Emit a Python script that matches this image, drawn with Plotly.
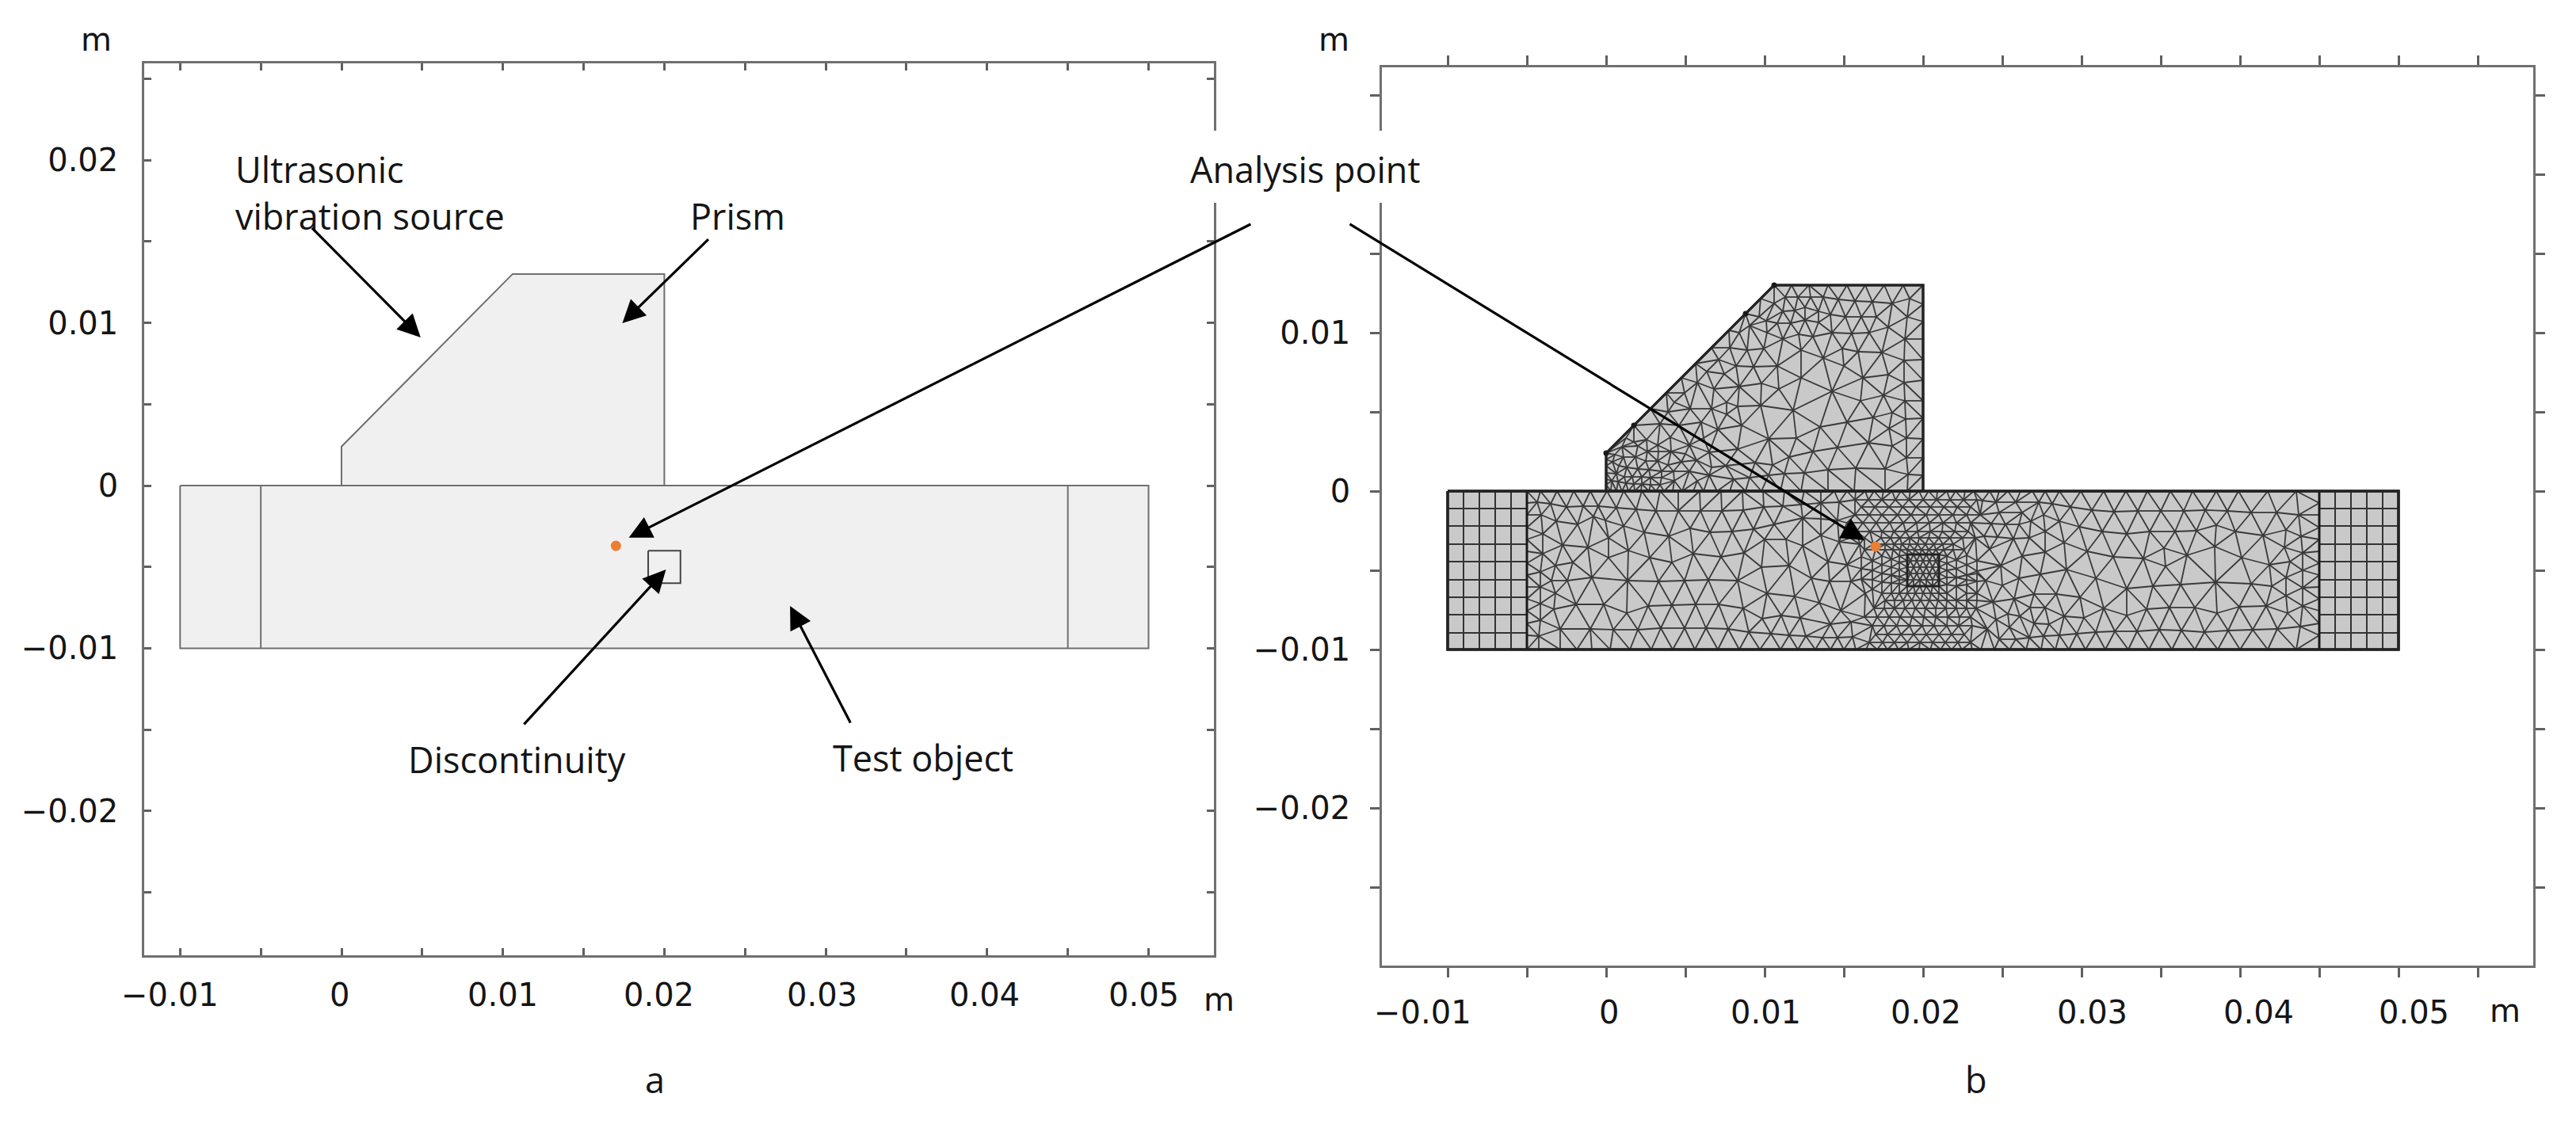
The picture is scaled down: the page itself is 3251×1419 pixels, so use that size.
import math
import numpy as np
import plotly.graph_objects as go

# page size of the reference, the browser keeps an 8px body margin
W = 3251
H = 1419
PAGE_MARGIN = 8

# ---- panel a geometry (metres) ----
prism_x = [0, 0, 0.0106, 0.02, 0.02, 0]
prism_y = [0, 0.0024, 0.013, 0.013, 0, 0]
block_x = [-0.01, 0.05, 0.05, -0.01, -0.01]
block_y = [0, 0, -0.01, -0.01, 0]
pml_lines = [-0.005, 0.045]
defect_x = [0.019, 0.021, 0.021, 0.019, 0.019]
defect_y = [-0.004, -0.004, -0.006, -0.006, -0.004]
point_a = (0.017, -0.0037)
point_b = (0.017, -0.0035)

# ---- ticks ----
x_ticks_a = [-0.01, -0.005, 0, 0.005, 0.01, 0.015, 0.02, 0.025, 0.03, 0.035, 0.04, 0.045, 0.05]
x_ticks_b = x_ticks_a + [0.055]
y_ticks_a = [0.025, 0.02, 0.015, 0.01, 0.005, 0, -0.005, -0.01, -0.015, -0.02, -0.025]
y_text_a = ["", "0.02", "", "0.01", "", "0", "", "−0.01", "", "−0.02", ""]
y_ticks_b = y_ticks_a + [-0.03]
y_text_b = ["", "", "", "0.01", "", "0", "", "−0.01", "", "−0.02", "", ""]
x_labels = ["−0.01", "0", "0.01", "0.02", "0.03", "0.04", "0.05"]
x_label_vals = [-0.01, 0, 0.01, 0.02, 0.03, 0.04, 0.05]
x_label_shift_a = [-13, -3, 0, -7, -5, -3, -6]
x_label_shift_b = [-32, 3, 1, 3, 13, 23, 19]

# ---- mesh of panel b, nodes in mm ----
prism_edge = [
    (10.6, 13), (11.7, 13), (12.8, 13), (14, 13), (15.2, 13), (16.35, 13), (17.55, 13), (18.75, 13), (20, 13),
    (20, 11.8), (20, 10.7), (20, 9.6), (20, 8.3), (20, 7), (20, 5.7), (20, 4.6), (20, 3.3), (20, 2.1), (20, 1), (20, 0),
    (19, 0), (17.6, 0), (15.65, 0), (14, 0), (12.3, 0), (11, 0), (9.8, 0), (8.8, 0), (7.8, 0), (7, 0), (6.15, 0),
    (5.5, 0), (4.8, 0), (4.2, 0), (3.65, 0), (3.15, 0), (2.7, 0), (2.2, 0), (1.8, 0), (1.4, 0), (1, 0), (0.65, 0), (0.3, 0), (0, 0),
    (0, 0.4), (0, 0.75), (0, 1.15), (0, 1.6), (0, 2), (0, 2.4),
    (1.75, 4.15), (2.8, 5.2), (3.8, 6.2), (4.75, 7.15), (5.65, 8.05), (6.65, 9.05), (7.75, 10.15), (8.8, 11.2), (9.75, 12.15),
]
prism_upper = [
    (11.3, 12.25), (12.1, 12.25), (12.9, 12.25), (13.7, 12.25), (14.65, 12.1), (15.7, 12), (16.8, 11.95), (18.05, 11.85), (19.15, 12.15),
    (10.6, 11.85), (11.15, 11.35), (11.9, 11.4), (12.55, 11.6), (13.4, 11.35), (14.15, 11.15), (15.1, 11), (16.1, 11), (17.05, 11), (19, 11),
    (9.65, 11), (9.05, 10.45), (10.1, 10.75), (10.8, 10.6), (11.65, 10.6), (12.55, 10.8), (13.4, 10.65),
    (17.8, 10.35), (14.25, 10), (15.5, 9.95), (16.6, 10), (10.15, 10), (11.15, 9.6), (12.15, 9.9), (13.05, 9.75), (8.4, 10), (7.8, 9.05), (8.9, 8.9), (9.95, 9),
    (14.9, 9), (15.9, 8.8), (17.4, 8.75), (18.85, 9.6), (12.3, 8.9), (13.7, 8.4), (18.8, 8.25), (7.1, 8.3), (8.2, 7.9), (9.3, 7.85), (10.8, 7.9), (15, 7.9),
    (16.2, 7.15), (17.8, 7.35), (12.3, 7.15), (18.8, 6.85),
]
prism_middle = [
    (6.35, 7.55), (5.75, 6.85), (6.8, 6.45), (7.45, 7.4), (8.4, 6.6), (9.8, 6.8), (10.9, 6.45), (14.25, 6.3), (16.05, 5.7), (17.5, 6.05), (18.85, 5.7),
    (4.95, 6.2), (4.3, 5.6), (5.3, 5.2), (6.65, 5.2), (7.6, 5.6), (8.3, 5.35), (9.75, 5.4), (11.8, 5.1), (18.05, 4.95), (18.9, 4.55),
    (3.9, 5), (3.4, 4.25), (4.6, 4.15), (6, 4.35), (7.05, 3.9), (7.6, 4.85), (8.55, 4.15), (13.5, 4.05), (15.2, 4.35), (16.85, 4.65), (17.85, 3.95),
    (2.55, 3.25), (3.25, 2.9), (4.05, 3.4), (5.25, 2.9), (6.15, 3.35), (10.25, 3.3), (12, 3.35), (16.55, 3.05), (18.95, 3.35),
]
prism_lower = [
    (1.25, 3.35), (1.75, 3.1), (1, 2.8), (2, 2.85), (2.6, 2.5), (3.3, 2.5), (4.1, 2.5), (5, 2.35), (6.5, 2.45), (8.3, 2.65), (13.05, 2.5), (14.6, 2.75), (18.05, 2.85),
    (0.55, 2.3), (1.1, 2.15), (1.85, 2.15), (2.5, 1.9), (3.25, 1.9), (3.9, 1.65), (4.75, 1.85), (5.7, 1.95), (9.4, 1.8), (11.55, 2.15), (10.5, 1.65), (18.95, 2.1),
    (0.4, 1.85), (0.8, 1.6), (1.3, 1.5), (2, 1.4), (2.7, 1.35), (3.5, 1.25), (4.25, 1.25), (5.25, 1.25), (7.55, 1.6), (6.65, 1.5), (15.75, 1.45), (14, 1.35), (17.6, 1.4),
    (0.65, 1.1), (1.15, 0.9), (1.65, 0.9), (2.25, 0.9), (2.8, 0.85), (3.5, 0.85), (4.3, 0.65), (5.75, 0.65), (6.5, 1), (8.05, 0.75), (9.05, 0.85), (10.25, 1), (11.25, 1.1), (12.5, 1.15), (19.05, 1.05),
    (0.35, 0.65), (0.75, 0.6), (1.25, 0.5), (1.75, 0.45), (2.25, 0.45), (2.8, 0.4), (3.4, 0.4),
]

block_top_x = [-5, -4.15, -3.1, -2.05, -1, 0.05, 1.1, 2.25, 3.4, 4.55, 5.9, 7.25, 8.6, 9.9, 11.25, 12.5, 13.55, 14.4, 15.2, 15.75,
               16.35, 16.9, 17.5, 18.05, 18.6, 19.2, 19.75, 20.35, 20.9, 21.5, 22.05, 22.65, 23.2, 24.2, 24.8, 25.35, 26.15, 26.9,
               27.7, 28.6, 29.95, 31.4, 32.8, 34.15, 35.6, 37, 38.5, 39.9, 41.75, 43.55, 45]
block_bottom_x = [-5, -4.25, -2.9, -1.85, -0.9, 0.25, 1.5, 2.85, 4.2, 5.6, 7.05, 8.4, 9.7, 11, 12.1, 13.2, 14.15, 15, 15.75, 16.4, 17.1,
                  17.75, 18.45, 19.1, 19.75, 20.45, 21.1, 21.8, 22.45, 23.1, 23.65, 24.5, 25.45, 26.5, 27.45, 28.35, 29.2, 30.25,
                  31.5, 32.95, 34.25, 35.7, 37.15, 38.6, 40, 41.75, 43.55, 45]
block_side_y = [-0.75, -1.5, -2.3, -3.05, -3.8, -4.55, -5.3, -6.05, -6.8, -7.55, -8.35, -9.1]

block_left = [
    (-4.35, -0.7), (-3.5, -0.8), (-2.5, -1), (-1.45, -0.95), (-0.5, -0.95), (0.65, -1.05), (1.9, -1.15), (3.15, -1.25), (4.55, -1.25), (5.95, -1.25),
    (7.3, -1.25), (8.65, -1.2), (9.95, -1), (11.15, -0.95), (12.3, -0.85), (13.55, -0.75), (14.7, -0.7),
    (-4.1, -1.5), (-3.15, -1.9), (-1.8, -2.1), (-0.8, -1.6), (-0.05, -1.85), (1.1, -2.2), (2.4, -2.6), (3.95, -2.85), (5.3, -2.35), (6.55, -2.6),
    (7.95, -2.55), (9.3, -2.4), (10.6, -2.1), (12.4, -1.7), (13.55, -1.75), (14.6, -1.85),
    (-4, -2.7), (-2.75, -3.4), (-1.15, -3.55), (0.15, -2.95), (1.4, -3.75), (2.75, -4.2), (4.15, -4.5), (5.5, -3.95), (7.25, -4.15), (8.7, -3.9),
    (10, -3.05), (11.35, -3.05), (12.4, -3.45), (13.55, -2.8), (14.7, -3.2), (-4, -3.95),
    (-4.15, -5.1), (-3.2, -4.7), (-2.1, -4.5), (-0.9, -5.45), (0.15, -4.2), (1.35, -5.65), (3.3, -5.7), (4.95, -5.65), (6.45, -5.6), (8.3, -5.65),
    (9.8, -4.8), (11.55, -4.7), (12.95, -5.5), (14, -4.45), (15.2, -4.65), (14.1, -5.7), (15.45, -5.7), (-3.45, -5.65), (-2.45, -5.65),
    (-4.15, -6.05), (-3.2, -6.45), (-1.9, -7.15), (-0.15, -7.15), (1.3, -7.7), (2.65, -7.25), (4.15, -7.2), (5.65, -7.15), (7.1, -7.15), (8.65, -7.4),
    (10.15, -6.45), (11.9, -6.65), (13.45, -7.05), (14.8, -7.55), (-4.15, -7.1), (-3.3, -7.45),
    (-4.15, -8.15), (-2.9, -8.7), (-1, -8.7), (0.45, -8.75), (2, -8.75), (3.45, -8.65), (4.95, -8.65), (6.3, -8.65), (7.7, -8.7), (9, -8.9),
    (9.85, -8.05), (11.05, -7.85), (12.25, -8), (14.15, -8.4), (15.45, -8.25), (10.4, -9), (11.55, -9.1), (12.6, -9.15), (13.65, -9.25), (14.6, -9.25), (15.55, -9.2), (-4.25, -9.15),
]
# dense patch around the discontinuity, one row per y level
dense_rows = {
    -0.55: [15.7, 16.55, 17.4, 18.25, 19.1, 20, 20.85, 21.7, 22.55, 23.4],
    -1.0: [16.1, 16.95, 17.85, 18.7, 19.55, 20.45, 21.3, 22.15, 23],
    -1.5: [15.7, 16.6, 17.4, 18.4, 19.25, 20.2, 21, 21.9, 22.75, 23.6],
    -2.0: [15.2, 16.2, 17.05, 17.9, 18.75, 19.6, 20.4, 21.25, 22.1, 23],
    -2.55: [15.8, 16.65, 17.4, 18.15, 18.9, 19.65, 20.45, 21.2, 22, 22.85],
    -2.95: [15.4, 16.3, 17.35, 17.95, 18.55, 19.15, 19.75, 20.35, 21, 21.7, 22.5, 23.3],
    -3.35: [16, 16.85, 17.6, 18.15, 18.65, 19.15, 19.65, 20.15, 20.7, 21.25, 21.9],
    -3.7: [16.3, 17, 17.6, 18.1, 18.55, 19, 19.45, 19.9, 20.35, 20.8, 21.3, 21.9, 22.6],
    -4.0: [19, 19.4, 19.8, 20.2, 20.6, 21],
    -4.4: [16.8, 19, 19.2, 19.6, 20, 20.4, 20.8, 21, 23.4],
    -4.8: [18, 19, 19.4, 19.8, 20.2, 20.6, 21],
    -5.2: [17.4, 19, 19.2, 19.6, 20, 20.4, 20.8, 21, 23.4],
    -5.6: [16.8, 18.5, 19, 19.4, 19.8, 20.2, 20.6, 21, 22.75],
    -6.0: [19, 19.4, 19.8, 20.2, 20.6, 21, 22.1],
    -6.45: [19, 19.5, 20, 20.5, 21, 16.35, 17.4, 18, 18.5, 21.5, 22.75, 23.4],
    -6.9: [17.6, 18.2, 18.75, 19.3, 19.85, 20.4, 20.95, 21.5, 22.1, 22.75, 23.4],
    -7.4: [16.9, 17.55, 18.2, 18.85, 19.5, 20.15, 20.8, 21.45, 22.1, 22.75, 23.35],
    -7.95: [16.3, 17.1, 17.85, 18.55, 19.3, 20.05, 20.8, 21.55, 22.3, 23],
    -8.5: [16.8, 17.55, 18.35, 19.15, 19.95, 20.7, 21.5, 22.25, 23.1],
    -9.05: [17, 17.75, 18.6, 19.4, 20.2, 21, 21.8, 22.6],
    -9.55: [16.6, 17.45, 18.2, 19, 19.8, 20.6, 21.4, 22.2, 23],
}
defect_side = [
    (18.5, -4.1), (18.5, -4.5), (18.5, -4.95), (18.5, -5.4), (18.5, -5.85),
    (18, -4.3), (18, -5.3), (18, -5.8), (17.4, -4.1), (17.4, -4.65), (17.4, -5.75),
    (16.8, -5), (16.8, -6.2), (16.1, -4.15), (16.1, -4.9), (16.1, -5.55),
    (21.5, -4.1), (21.5, -4.55), (21.5, -5), (21.5, -5.45), (21.5, -5.9),
    (22.1, -4.35), (22.1, -4.9), (22.1, -5.45), (22.75, -4.05), (22.75, -4.65), (22.75, -5.3), (22.75, -5.9),
    (23.4, -5.05), (23.4, -5.7),
]
block_right = [
    (23.75, -0.6), (24.6, -0.7), (25.85, -0.7), (27.3, -0.7), (28.15, -0.8), (29.3, -1), (30.65, -1.2), (32.05, -1.3), (33.55, -1.25), (35, -1.25),
    (36.45, -1.25), (37.8, -1.2), (39.2, -1.25), (40.7, -1.35), (42.3, -1.35), (43.7, -1.5),
    (24.8, -1.35), (26.25, -1.35), (27.6, -1.5), (28.6, -1.9), (29.85, -2.25), (31.3, -2.55), (32.85, -2.7), (34.3, -2.55), (35.9, -2.55), (37.25, -2.5),
    (38.5, -2.15), (39.7, -2.55), (41.45, -2.8), (42.9, -2.45), (43.85, -2.85),
    (24.3, -2.05), (25.2, -2.1), (26.05, -2.1), (26.8, -1.9), (27.7, -2.55), (28.9, -3.25), (30.35, -3.8), (32, -4.15), (33.9, -4.25), (35.2, -3.6),
    (36.65, -4.05), (38.4, -3.5), (40.1, -4.2), (41.85, -4.65), (42.8, -3.55), (43.95, -3.9), (43.15, -4.45), (43.95, -5),
    (23.85, -2.85), (24.7, -2.9), (25.7, -3), (26.7, -2.95), (27.7, -3.85), (26.25, -4.1), (24.9, -4.7), (24.2, -3.65), (29.05, -4.95), (27.4, -5.25),
    (26.05, -5.5), (30.9, -5.5), (32.85, -6.15), (34.5, -6), (35.3, -4.75), (36.25, -5.9), (38.45, -5.75), (40.7, -5.85), (42, -6), (42.9, -5.45), (43.95, -6.1),
    (23.95, -5.65), (25, -5.95), (27, -6.5), (28.4, -6.5), (29.9, -6.7), (31.4, -7.4), (32.85, -7.85), (34.1, -7.45), (35.55, -7.35), (37.15, -7.35),
    (38.55, -7.7), (39.95, -7.3), (41.65, -7.25), (42.9, -6.6), (43.95, -7.25), (43, -7.7),
    (24.4, -7), (25.75, -6.8), (26.75, -7.35), (27.7, -7.35), (28.9, -7.9), (30.15, -8), (27, -8.35), (27.95, -8.4), (26.1, -7.9), (25.35, -7.75),
    (24.6, -8.1), (25.45, -8.6), (24.05, -8.7),
    (24.8, -9.35), (25.85, -9.35), (26.7, -9.25), (27.6, -9.15), (28.6, -9.1), (29.7, -9), (30.9, -8.9), (32.1, -8.85), (33.5, -8.85), (34.9, -8.75),
    (36.3, -8.8), (37.75, -8.9), (39.25, -8.8), (40.8, -8.75), (42.35, -8.7), (43.8, -8.55),
]
pml_left_x = [-10, -9, -8, -7, -6, -5]
pml_right_x = [45, 46, 47, 48, 49, 50]
pml_y = [0, -1.1, -2.2, -3.35, -4.45, -5.6, -6.7, -7.8, -8.95, -10]
seed_points = [(0, 2.4), (1.75, 4.15), (8.8, 11.2), (10.6, 13)]


def delaunay(points):
    # plain Bowyer-Watson; the small nudge only stops collinear boundary nodes breaking it
    pts = [(p[0] + 1e-4 * math.sin(i * 1.7), p[1] + 1e-4 * math.cos(i * 2.3)) for i, p in enumerate(points)]
    n = len(pts)
    pts += [(-2000, -2000), (2000, -2000), (0, 3000)]
    def in_circle(t, p):
        ax, ay = pts[t[0]][0] - p[0], pts[t[0]][1] - p[1]
        bx, by = pts[t[1]][0] - p[0], pts[t[1]][1] - p[1]
        cx, cy = pts[t[2]][0] - p[0], pts[t[2]][1] - p[1]
        d = (ax * ax + ay * ay) * (bx * cy - cx * by) - (bx * bx + by * by) * (ax * cy - cx * ay) + (cx * cx + cy * cy) * (ax * by - bx * ay)
        area = (pts[t[1]][0] - pts[t[0]][0]) * (pts[t[2]][1] - pts[t[0]][1]) - (pts[t[1]][1] - pts[t[0]][1]) * (pts[t[2]][0] - pts[t[0]][0])
        return d * area > 0
    tris = [(n, n + 1, n + 2)]
    for i in range(n):
        bad = [t for t in tris if in_circle(t, pts[i])]
        edges = {}
        for t in bad:
            for e in ((t[0], t[1]), (t[1], t[2]), (t[2], t[0])):
                k = tuple(sorted(e))
                edges[k] = edges.get(k, 0) + 1
        tris = [t for t in tris if t not in bad]
        for k, c in edges.items():
            if c == 1:
                tris.append((k[0], k[1], i))
    return [t for t in tris if max(t) < n]


def mesh_lines(points, inside):
    xs, ys = [], []
    seen = set()
    for t in delaunay(points):
        a, b, c = points[t[0]], points[t[1]], points[t[2]]
        area = abs((b[0] - a[0]) * (c[1] - a[1]) - (b[1] - a[1]) * (c[0] - a[0]))
        if area < 0.002 or not inside((a[0] + b[0] + c[0]) / 3, (a[1] + b[1] + c[1]) / 3):
            continue
        for e in ((t[0], t[1]), (t[1], t[2]), (t[2], t[0])):
            k = tuple(sorted(e))
            if k in seen:
                continue
            seen.add(k)
            xs += [points[k[0]][0] / 1000, points[k[1]][0] / 1000, None]
            ys += [points[k[0]][1] / 1000, points[k[1]][1] / 1000, None]
    return xs, ys


prism_nodes = list(dict.fromkeys(prism_edge + prism_upper + prism_middle + prism_lower))
block_nodes = [(x, 0) for x in block_top_x] + [(x, -10) for x in block_bottom_x]
block_nodes += [(-5, y) for y in block_side_y] + [(45, y) for y in block_side_y]
block_nodes += block_left + block_right + defect_side
for level, row in dense_rows.items():
    block_nodes += [(x, level) for x in row]
block_nodes = list(dict.fromkeys(block_nodes))

prism_mx, prism_my = mesh_lines(prism_nodes, lambda x, y: y < x + 2.4 and 0 < y < 13 and 0 < x < 20)
block_mx, block_my = mesh_lines(block_nodes, lambda x, y: -5 < x < 45 and -10 < y < 0)

grid_x, grid_y = [], []
for col in pml_left_x + pml_right_x:
    grid_x += [col / 1000, col / 1000, None]
    grid_y += [0, -0.01, None]
for row_y in pml_y:
    for span in (pml_left_x, pml_right_x):
        grid_x += [span[0] / 1000, span[-1] / 1000, None]
        grid_y += [row_y / 1000, row_y / 1000, None]

fig = go.Figure()

# panel a
GEOM_LINE = dict(color="#6f6f6f", width=2)
fig.add_trace(go.Scatter(x=prism_x, y=prism_y, mode="lines", fill="toself", fillcolor="#f0f0f0", line=GEOM_LINE, xaxis="x", yaxis="y"))
fig.add_trace(go.Scatter(x=block_x, y=block_y, mode="lines", fill="toself", fillcolor="#f0f0f0", line=GEOM_LINE, xaxis="x", yaxis="y"))
for v in pml_lines:
    fig.add_trace(go.Scatter(x=[v, v], y=[0, -0.01], mode="lines", line=GEOM_LINE, xaxis="x", yaxis="y"))
fig.add_trace(go.Scatter(x=defect_x, y=defect_y, mode="lines", line=dict(color="#444444", width=2), xaxis="x", yaxis="y"))
fig.add_trace(go.Scatter(x=[point_a[0]], y=[point_a[1]], mode="markers", marker=dict(color="#ed7d31", size=13), xaxis="x", yaxis="y"))

# panel b
fig.add_trace(go.Scatter(x=prism_x, y=prism_y, mode="lines", fill="toself", fillcolor="#c9c9c9", line=dict(color="#222222", width=3), xaxis="x2", yaxis="y2"))
fig.add_trace(go.Scatter(x=block_x, y=block_y, mode="lines", fill="toself", fillcolor="#c9c9c9", line=dict(color="#222222", width=3), xaxis="x2", yaxis="y2"))
MESH_LINE = dict(color="#3a3a3a", width=1.8)
fig.add_trace(go.Scatter(x=prism_mx, y=prism_my, mode="lines", line=MESH_LINE, xaxis="x2", yaxis="y2"))
fig.add_trace(go.Scatter(x=block_mx, y=block_my, mode="lines", line=MESH_LINE, xaxis="x2", yaxis="y2"))
fig.add_trace(go.Scatter(x=grid_x, y=grid_y, mode="lines", line=dict(color="#333333", width=2), xaxis="x2", yaxis="y2"))
for v in pml_lines:
    fig.add_trace(go.Scatter(x=[v, v], y=[0, -0.01], mode="lines", line=dict(color="#1a1a1a", width=3), xaxis="x2", yaxis="y2"))
fig.add_trace(go.Scatter(x=prism_x, y=prism_y, mode="lines", line=dict(color="#222222", width=3), xaxis="x2", yaxis="y2"))
fig.add_trace(go.Scatter(x=block_x, y=block_y, mode="lines", line=dict(color="#222222", width=3.5), xaxis="x2", yaxis="y2"))
fig.add_trace(go.Scatter(x=defect_x, y=defect_y, mode="lines", line=dict(color="#222222", width=3), xaxis="x2", yaxis="y2"))
fig.add_trace(go.Scatter(x=[p[0] / 1000 for p in seed_points], y=[p[1] / 1000 for p in seed_points], mode="markers",
                         marker=dict(color="#1a1a1a", size=7), xaxis="x2", yaxis="y2"))
fig.add_trace(go.Scatter(x=[point_b[0]], y=[point_b[1]], mode="markers", marker=dict(color="#ed7d31", size=13), xaxis="x2", yaxis="y2"))

TICK_FONT = dict(family="DejaVu Sans", size=40, color="#151515")
TEXT_FONT = dict(family="Open Sans", size=45, color="#151515")

PLOT_W = W - 2 * PAGE_MARGIN
PLOT_H = H - 2 * PAGE_MARGIN


def px_x(p):
    return (p - PAGE_MARGIN) / PLOT_W


def px_y(p):
    return 1 - (p - PAGE_MARGIN) / PLOT_H


AXIS = dict(showgrid=False, zeroline=False, showline=True, linecolor="#707070", linewidth=2.5, tickcolor="#606060", tickwidth=2.5)

# white box behind "Analysis point", it hides the two frame lines and the 0.02 ticks
fig.add_shape(type="rect", xref="paper", yref="paper", x0=px_x(1490), x1=px_x(1770), y0=px_y(256), y1=px_y(165),
              fillcolor="white", line=dict(width=0), layer="above")

annotations = []
for text, val, shift in zip(x_labels, x_label_vals, x_label_shift_a):
    annotations.append(dict(text=text, x=val, xref="x", xshift=shift, xanchor="center", y=px_y(1256), yref="paper", yanchor="middle", showarrow=False, font=TICK_FONT))
for text, val, shift in zip(x_labels, x_label_vals, x_label_shift_b):
    annotations.append(dict(text=text, x=val, xref="x2", xshift=shift, xanchor="center", y=px_y(1278), yref="paper", yanchor="middle", showarrow=False, font=TICK_FONT))


def note(text, cx, cy, font=TEXT_FONT, anchor="center"):
    annotations.append(dict(text=text, x=px_x(cx), y=px_y(cy), xref="paper", yref="paper", showarrow=False, font=font,
                            xanchor=anchor, yanchor="middle", borderpad=0))


note("m", 121, 50, TICK_FONT)
note("m", 1683, 50, TICK_FONT)
note("m", 1538, 1262, TICK_FONT)
note("m", 3161, 1276, TICK_FONT)
note("a", 826, 1362)
note("b", 2494, 1362)
note("Ultrasonic", 296, 213, anchor="left")
note("vibration source", 296, 272, anchor="left")
note("Prism", 931, 272)
note("Discontinuity", 652, 958)
note("Test object", 1165, 956)
note("Analysis point", 1647, 213)

# arrows: tail then tip in axis coordinates
arrows_a = [
    (-0.0019, 0.0159, 0.0049, 0.0091),
    (0.0228, 0.0152, 0.0174, 0.00998),
    (0.0564, 0.0161, 0.0178, -0.0032),
    (0.01124, -0.01474, 0.0201, -0.00516),
    (0.03157, -0.01465, 0.02779, -0.0074),
]
arrows_b = [(-0.01625, 0.0169, 0.0163, -0.0031)]
for ax0, ay0, tx, ty in arrows_a:
    annotations.append(dict(x=tx, y=ty, ax=ax0, ay=ay0, xref="x", yref="y", axref="x", ayref="y", text="", showarrow=True,
                            arrowhead=2, arrowsize=1.8, arrowwidth=3.2, arrowcolor="black"))
for ax0, ay0, tx, ty in arrows_b:
    annotations.append(dict(x=tx, y=ty, ax=ax0, ay=ay0, xref="x2", yref="y2", axref="x2", ayref="y2", text="", showarrow=True,
                            arrowhead=2, arrowsize=1.8, arrowwidth=3.2, arrowcolor="black"))

fig.update_layout(
    width=PLOT_W, height=PLOT_H, margin=dict(l=0, r=0, t=0, b=0), autosize=False,
    paper_bgcolor="white", plot_bgcolor="white", showlegend=False,
    annotations=annotations,
    xaxis=dict(domain=[px_x(182), px_x(1532)], range=[-0.012224, 0.05405], tickmode="array", tickvals=x_ticks_a,
               ticks="inside", ticklen=9, mirror="ticks", showticklabels=False, anchor="y", **AXIS),
    yaxis=dict(domain=[px_y(1206), px_y(80)], range=[-0.02886, 0.02594], tickmode="array", tickvals=y_ticks_a, ticktext=y_text_a,
               ticks="inside", ticklen=9, mirror="ticks", tickfont=TICK_FONT, ticklabelstandoff=22, anchor="x", **AXIS),
    xaxis2=dict(domain=[px_x(1744), px_x(3197)], range=[-0.01415, 0.0585], tickmode="array", tickvals=x_ticks_b,
                ticks="outside", ticklen=12, mirror="ticks", showticklabels=False, anchor="y2", **AXIS),
    yaxis2=dict(domain=[px_y(1219), px_y(85)], range=[-0.02995, 0.02675], tickmode="array", tickvals=y_ticks_b, ticktext=y_text_b,
                ticks="outside", ticklen=12, mirror="ticks", tickfont=TICK_FONT, ticklabelstandoff=17, anchor="x2", **AXIS),
)

fig.write_html("out.html")
